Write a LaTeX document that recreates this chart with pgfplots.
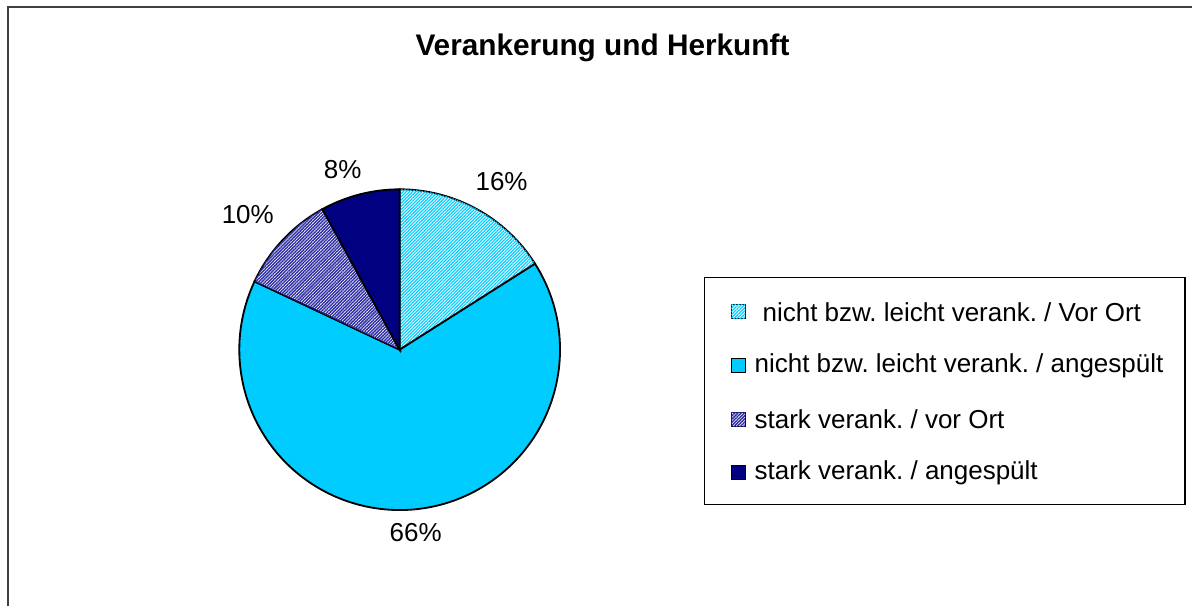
\documentclass[border=0pt]{standalone}
\usepackage{pgfplots}
\pgfplotsset{compat=1.18}
\usetikzlibrary{patterns.meta}
\usepackage{fontspec}
\setmainfont{Liberation Sans}
\frenchspacing

\definecolor{skyA}{HTML}{00CCFF}
\definecolor{purpA}{HTML}{2E2EA6}
\definecolor{navyA}{HTML}{000080}
\definecolor{frameA}{HTML}{404040}

% shares in percent, clockwise from 12 o'clock
\pgfplotstableread{
share
16
66
10
8
}\sharedata

\tikzset{
  hatchsky/.style={fill=white, postaction={pattern={Lines[angle=45,distance=1.6pt,line width=0.85pt]}, pattern color=skyA}},
  hatchpurp/.style={fill=white, postaction={pattern={Lines[angle=45,distance=1.6pt,line width=1.05pt]}, pattern color=purpA}},
}

% pixel grid: 1 unit = 0.025cm
\newcommand{\R}{4.0125cm}

\begin{document}
\begin{tikzpicture}
\begin{axis}[
  scale only axis, width=29.825cm, height=15.175cm,
  xmin=0, xmax=1193, ymin=0, ymax=607,
  hide axis, clip=false,
]
\fill[white] (axis cs:0,0) rectangle (axis cs:1193,607);
\draw[frameA, line width=1.5pt] (axis cs:8,0) -- (axis cs:8,600) -- (axis cs:1193,600);

\node[font=\bfseries\fontsize{21.2}{24}\selectfont] at (axis cs:603,559) {Verankerung und Herkunft};

% pie, centre (400,257)
\pgfplotstablegetelem{0}{share}\of\sharedata \let\sA\pgfplotsretval
\pgfplotstablegetelem{1}{share}\of\sharedata \let\sB\pgfplotsretval
\pgfplotstablegetelem{2}{share}\of\sharedata \let\sC\pgfplotsretval
\pgfplotstablegetelem{3}{share}\of\sharedata \let\sD\pgfplotsretval
\pgfmathsetmacro\aA{90-\sA*3.6}
\pgfmathsetmacro\aB{\aA-\sB*3.6}
\pgfmathsetmacro\aC{\aB-\sC*3.6}
\pgfmathsetmacro\aD{\aC-\sD*3.6}
\edef\drawpie{%
\noexpand\draw[hatchsky, line width=1.3pt] (axis cs:400,257) -- ++(90:\R) arc[start angle=90, end angle=\aA, radius=\R] -- cycle;
\noexpand\draw[fill=skyA, line width=1.3pt] (axis cs:400,257) -- ++(\aA:\R) arc[start angle=\aA, end angle=\aB, radius=\R] -- cycle;
\noexpand\draw[hatchpurp, line width=1.3pt] (axis cs:400,257) -- ++(\aB:\R) arc[start angle=\aB, end angle=\aC, radius=\R] -- cycle;
\noexpand\draw[fill=navyA, line width=1.3pt] (axis cs:400,257) -- ++(\aC:\R) arc[start angle=\aC, end angle=\aD, radius=\R] -- cycle;
}
\drawpie

\begin{scope}[every node/.style={font=\fontsize{18.5}{21}\selectfont}]
\node at (axis cs:502,425) {16\%};
\node at (axis cs:343,437) {8\%};
\node at (axis cs:248,392) {10\%};
\node at (axis cs:416,74) {66\%};
\end{scope}

% legend
\draw[line width=0.8pt] (axis cs:705,102) rectangle (axis cs:1186,329);
\begin{scope}[every node/.style={font=\fontsize{18.5}{21}\selectfont, anchor=west, inner sep=0pt}]
\draw[hatchsky, line width=1pt] (axis cs:732,288) rectangle (axis cs:746,302);
\node at (axis cs:763,295) {nicht bzw. leicht verank. / Vor Ort};
\draw[fill=skyA, line width=1pt] (axis cs:732,234) rectangle (axis cs:746,248);
\node at (axis cs:755,241) {nicht bzw. leicht verank. / angespült};
\draw[hatchpurp, line width=1pt] (axis cs:732,180) rectangle (axis cs:746,194);
\node at (axis cs:755,187) {stark verank. / vor Ort};
\draw[fill=navyA, line width=1pt] (axis cs:732,127) rectangle (axis cs:746,141);
\node at (axis cs:755,134) {stark verank. / angespült};
\end{scope}
\end{axis}
\end{tikzpicture}
\end{document}
